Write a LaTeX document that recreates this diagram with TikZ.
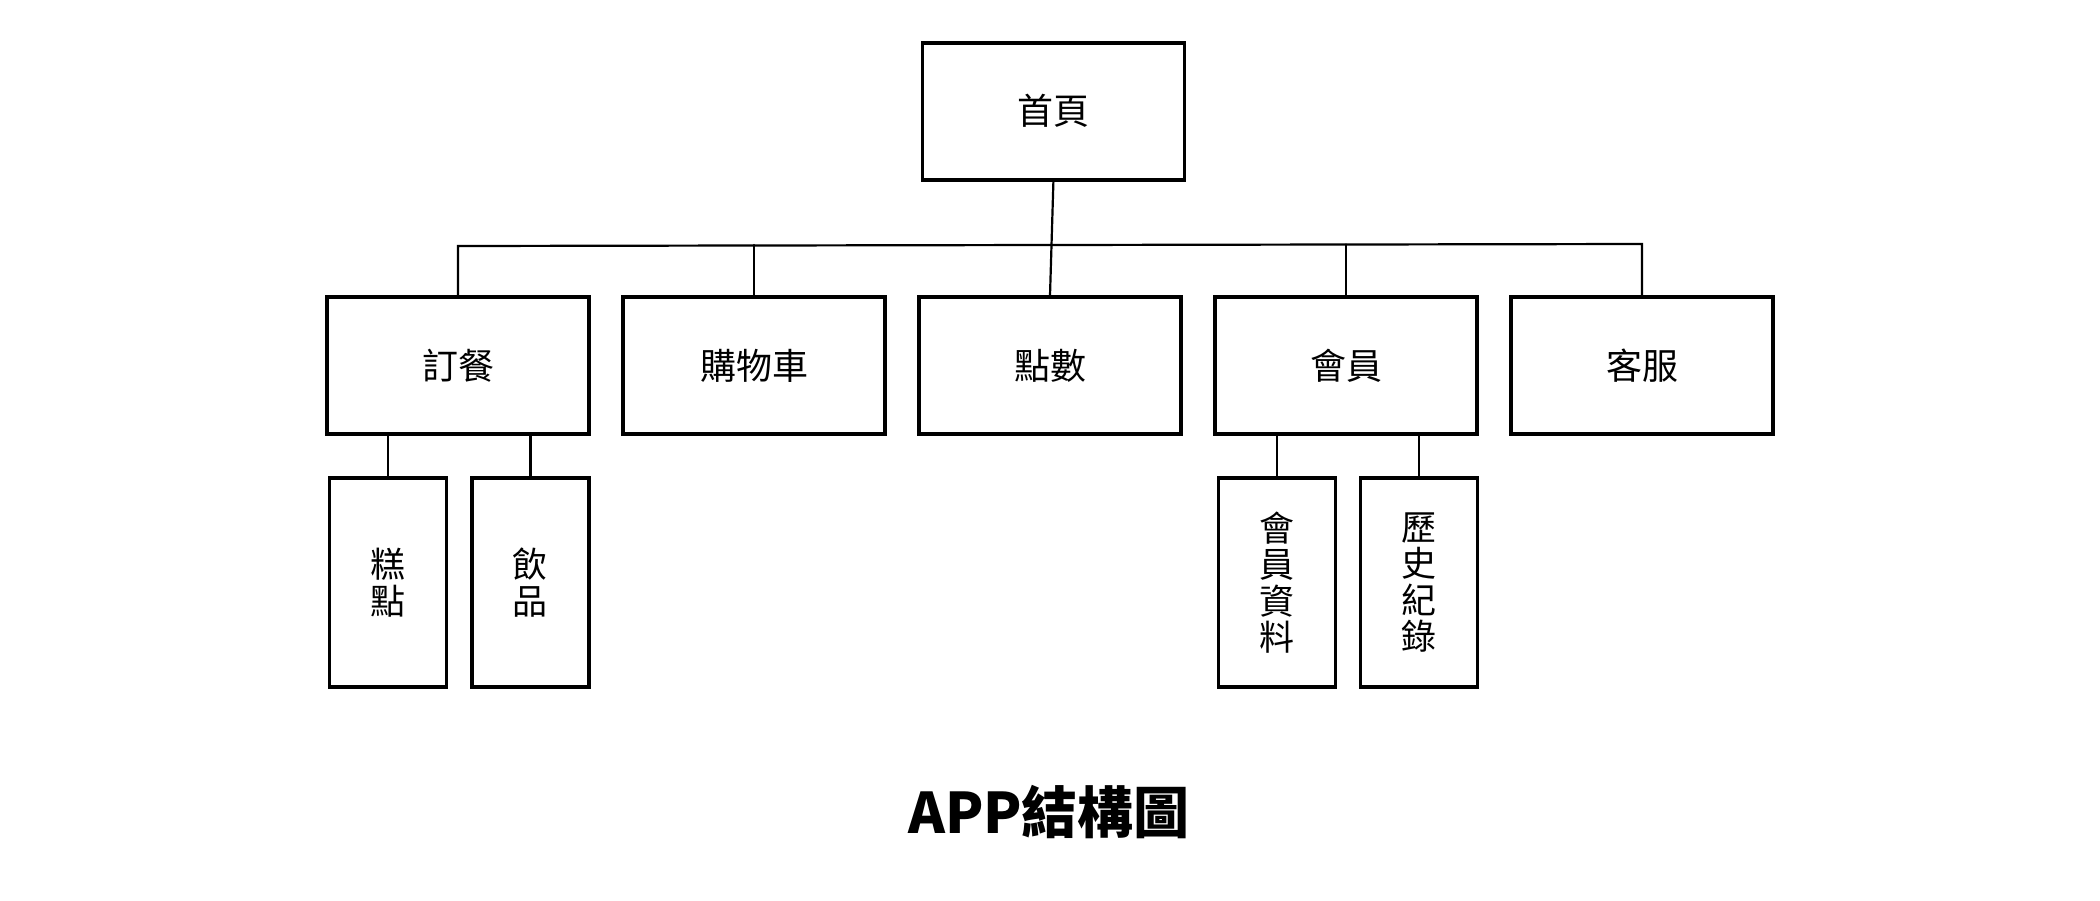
\documentclass[tikz,border=0pt]{standalone}
\usepackage{fontspec}
\newfontfamily\cjk{Noto Sans CJK TC}
\begin{document}
\begin{tikzpicture}[x=1pt,y=-1pt,
  box/.style={draw=black,line width=3.6pt,fill=white,inner sep=0pt,
    minimum width=262pt,minimum height=137pt,font=\cjk\fontsize{36}{40}\selectfont},
  vbox/.style={draw=black,line width=3.6pt,fill=white,inner sep=0pt,
    minimum width=117pt,minimum height=209pt,align=center,
    font=\cjk\fontsize{35}{36.5}\selectfont},
  conn/.style={line width=2.2pt,line cap=round}]
\useasboundingbox (0,0) rectangle (2100,900);
% top
\node[box] (home) at (1053.4,111.2) {首頁};
% second row
\node[box] (dc) at (458,365.6) {訂餐};
\node[box] (gw) at (754,365.6) {購物車};
\node[box] (ds) at (1050,365.6) {點數};
\node[box] (hy) at (1346,365.6) {會員};
\node[box] (kf) at (1642,365.6) {客服};
% third row
\node[vbox] (gd) at (387.8,582.6) {糕\\點};
\node[vbox] (yp) at (530.4,582.6) {飲\\品};
\node[vbox] (hz) at (1277,582.6) {會\\員\\資\\料};
\node[vbox] (ls) at (1419,582.6) {歷\\史\\紀\\錄};
% title
\node[font=\cjk\bfseries\fontsize{56}{60}\selectfont,inner sep=0pt] (title) at (1049,812) {APP結構圖};
% connectors
\coordinate (busL) at (458,246);
\coordinate (busR) at (1642,244);
\draw[conn] (dc.north) -- (busL) -- (busR) -- (kf.north);
\draw[conn] (gw.north) -- (gw.north |- 0,245);
\draw[conn] (hy.north) -- (hy.north |- 0,244.5);
\draw[conn] (home.south) -- (ds.north);
\draw[conn] (gd.north) -- (gd.north |- dc.south);
\draw[conn] (yp.north) -- (yp.north |- dc.south);
\draw[conn] (hz.north) -- (hz.north |- hy.south);
\draw[conn] (ls.north) -- (ls.north |- hy.south);
\end{tikzpicture}
\end{document}
